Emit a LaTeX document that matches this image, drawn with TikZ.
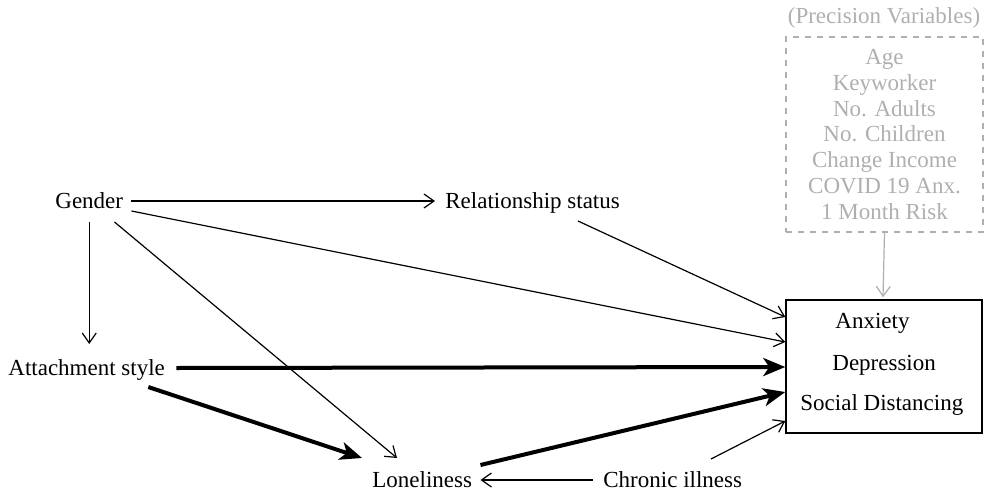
\documentclass[tikz,border=0pt]{standalone}
\usepackage{fontspec}
\setmainfont{Liberation Serif}
\usetikzlibrary{arrows.meta}
\definecolor{pgray}{RGB}{175,175,175}
\tikzset{
  lbl/.style={inner sep=0pt, font=\fontsize{11.5}{12.85}\selectfont},
  thin/.style={line width=0.6pt, -{Straight Barb[length=5pt,width=7pt]}},
  thick/.style={line width=2pt, -{Stealth[length=11pt,width=9pt,inset=3pt]}},
  outbox/.style={draw, line width=0.7pt, minimum width=98pt, minimum height=66.5pt, inner sep=0pt},
  precbox/.style={draw=pgray, dashed, line width=0.6pt, minimum width=98.5pt, minimum height=97.5pt, inner sep=0pt, align=center, text=pgray, font=\fontsize{11.5}{12.85}\selectfont},
  gthin/.style={draw=pgray, line width=0.6pt, -{Straight Barb[length=5pt,width=7pt]}}
}
\begin{document}
\begin{tikzpicture}[x=0.5pt,y=-0.5pt]
\useasboundingbox (0,0) rectangle (986,493);
% nodes
\node[lbl, anchor=base west] (gender) at (55,208) {Gender};
\node[lbl, anchor=base west] (rel) at (445,208) {Relationship status};
\node[lbl, anchor=base west] (att) at (8,375) {Attachment style};
\node[lbl, anchor=base west] (lon) at (372,487) {Loneliness};
\node[lbl, anchor=base west] (chr) at (603,487) {Chronic illness};
\node[outbox] (out) at (884,366.5) {};
\node[lbl, anchor=base west] (anx) at (835,328) {Anxiety};
\node[lbl, anchor=base west] (dep) at (832,370) {Depression};
\node[lbl, anchor=base west] (soc) at (800,410) {Social Distancing};
\node[precbox] (prec) at (884.5,134.5) {Age\\Keyworker\\No. Adults\\No. Children\\Change Income\\COVID 19 Anx.\\1 Month Risk};
\node[lbl, anchor=base, text=pgray] (prectitle) at (884,23) {(Precision Variables)};
% connectors
\draw[thin] ([shift={(8,-7)}]gender.base east) -- ([shift={(-10,-7)}]rel.base west);
\draw[thin] ([shift={(8,3)}]gender.base east) -- ([shift={(0,-24.5)}]out.west);
\draw[thin] ([shift={(-9,14)}]gender.base east) -- ([shift={(25,-29)}]lon.base west);
\draw[thin] ([shift={(0,14)}]gender.base) -- ([shift={(0,136)}]gender.base);
\draw[thin] ([shift={(133,13)}]rel.base west) -- ([shift={(0,-49.5)}]out.west);
\draw[thick] ([shift={(11,-7)}]att.base east) -- ([shift={(0,0.5)}]out.west);
\draw[thick] ([shift={(-17,12)}]att.base east) -- ([shift={(-10,-29)}]lon.base west);
\draw[thick] ([shift={(8,-22)}]lon.base east) -- ([shift={(0,25.5)}]out.west);
\draw[thin] ([shift={(-10,-7)}]chr.base west) -- ([shift={(8,-7)}]lon.base east);
\draw[thin] ([shift={(108,-28)}]chr.base west) -- ([shift={(0,54.5)}]out.west);
\draw[gthin] (prec.south) -- ([shift={(-1,-2)}]out.north);
\end{tikzpicture}
\end{document}
